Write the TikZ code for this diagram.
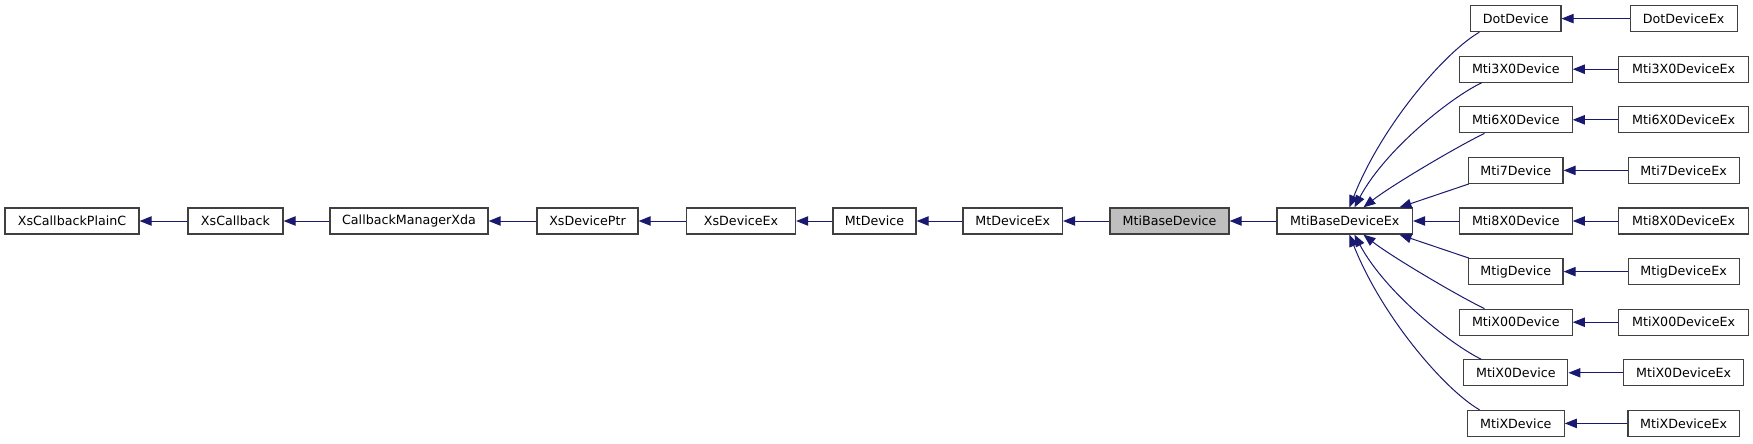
\documentclass[tikz,border=0pt]{standalone}
\usepackage{fontspec}
\setmainfont{DejaVu Sans}
\usetikzlibrary{arrows.meta}
\definecolor{edgecol}{HTML}{191970}
\definecolor{boxcol}{HTML}{404040}
\definecolor{hilite}{HTML}{BFBFBF}
\tikzset{
  box/.style={draw=boxcol, line width=0.9pt, fill=white, inner sep=0pt,
    minimum height=19.5pt, font=\fontsize{9.5}{12}\selectfont},
  edge/.style={draw=edgecol, line width=0.75pt, -{Triangle[length=9pt,width=7pt]}},
}
\begin{document}
\begin{tikzpicture}[x=0.75pt,y=-0.75pt]
\useasboundingbox (0,0) rectangle (1753,443);
% main row
\node[box, minimum width=100.5pt] (xcp) at (72,221) {XsCallbackPlainC};
\node[box, minimum width=71.25pt] (xcb) at (235.5,221) {XsCallback};
\node[box, minimum width=118.5pt] (cmx) at (409,221) {CallbackManagerXda};
\node[box, minimum width=75.75pt] (xdp) at (587.5,221) {XsDevicePtr};
\node[box, minimum width=81.75pt] (xde) at (741,221) {XsDeviceEx};
\node[box, minimum width=62.25pt] (mtd) at (874.5,221) {MtDevice};
\node[box, minimum width=74.6pt] (mtde) at (1012.75,221) {MtDeviceEx};
\node[box, minimum width=89.25pt, fill=hilite] (mbd) at (1169.5,221) {MtiBaseDevice};
\node[box, minimum width=101.6pt] (mbe) at (1344.75,221) {MtiBaseDeviceEx};
% first column of children
\node[box, minimum width=67.7pt] (dot) at (1515.8,18.6) {DotDevice};
\node[box, minimum width=84.5pt] (m3) at (1515.8,69.2) {Mti3X0Device};
\node[box, minimum width=84.5pt] (m6) at (1515.8,119.8) {Mti6X0Device};
\node[box, minimum width=70.8pt] (m7) at (1515.8,170.4) {Mti7Device};
\node[box, minimum width=84.5pt] (m8) at (1515.8,221) {Mti8X0Device};
\node[box, minimum width=70.8pt] (mg) at (1515.8,271.6) {MtigDevice};
\node[box, minimum width=84.5pt] (mx00) at (1515.8,322.2) {MtiX00Device};
\node[box, minimum width=78pt] (mx0) at (1515.8,372.8) {MtiX0Device};
\node[box, minimum width=72.5pt] (mx) at (1515.8,423.4) {MtiXDevice};
% second column
\node[box, minimum width=80.25pt] (dotx) at (1683.6,18.6) {DotDeviceEx};
\node[box, minimum width=97.1pt] (m3x) at (1683.6,69.2) {Mti3X0DeviceEx};
\node[box, minimum width=97.1pt] (m6x) at (1683.6,119.8) {Mti6X0DeviceEx};
\node[box, minimum width=83.25pt] (m7x) at (1683.6,170.4) {Mti7DeviceEx};
\node[box, minimum width=97.1pt] (m8x) at (1683.6,221) {Mti8X0DeviceEx};
\node[box, minimum width=83.25pt] (mgx) at (1683.6,271.6) {MtigDeviceEx};
\node[box, minimum width=97.1pt] (mx00x) at (1683.6,322.2) {MtiX00DeviceEx};
\node[box, minimum width=90.4pt] (mx0x) at (1683.6,372.8) {MtiX0DeviceEx};
\node[box, minimum width=83.5pt] (mxx) at (1683.6,423.4) {MtiXDeviceEx};
% main chain edges
\draw[edge] (xcb.west) -- (xcp.east);
\draw[edge] (cmx.west) -- (xcb.east);
\draw[edge] (xdp.west) -- (cmx.east);
\draw[edge] (xde.west) -- (xdp.east);
\draw[edge] (mtd.west) -- (xde.east);
\draw[edge] (mtde.west) -- (mtd.east);
\draw[edge] (mbd.west) -- (mtde.east);
\draw[edge] (mbe.west) -- (mbd.east);
% Ex edges
\draw[edge] (dotx.west) -- (dot.east);
\draw[edge] (m3x.west) -- (m3.east);
\draw[edge] (m6x.west) -- (m6.east);
\draw[edge] (m7x.west) -- (m7.east);
\draw[edge] (m8x.west) -- (m8.east);
\draw[edge] (mgx.west) -- (mg.east);
\draw[edge] (mx00x.west) -- (mx00.east);
\draw[edge] (mx0x.west) -- (mx0.east);
\draw[edge] (mxx.west) -- (mx.east);
% fan into MtiBaseDeviceEx
\draw[edge] ([xshift=7pt]dot.south west) .. controls (1445,52) and (1382,125) .. ([xshift=54.75pt]mbe.north west);
\draw[edge] ([xshift=17pt]m3.south west) .. controls (1450,98) and (1385,150) .. ([xshift=58.5pt]mbe.north west);
\draw[edge] ([xshift=19.2pt]m6.south west) .. controls (1460,145) and (1392,185) .. ([xshift=65.25pt]mbe.north west);
\draw[edge] ([xshift=0.5pt]m7.south west) -- ([xshift=92.25pt]mbe.north west);
\draw[edge] (m8.west) -- (mbe.east);
\draw[edge] ([xshift=0.5pt]mg.north west) -- ([xshift=92.25pt]mbe.south west);
\draw[edge] ([xshift=19.2pt]mx00.north west) .. controls (1460,297) and (1392,257) .. ([xshift=65.25pt]mbe.south west);
\draw[edge] ([xshift=13.5pt]mx0.north west) .. controls (1450,344) and (1385,292) .. ([xshift=58.5pt]mbe.south west);
\draw[edge] ([xshift=9.5pt]mx.north west) .. controls (1445,390) and (1382,317) .. ([xshift=54.75pt]mbe.south west);
\end{tikzpicture}
\end{document}
